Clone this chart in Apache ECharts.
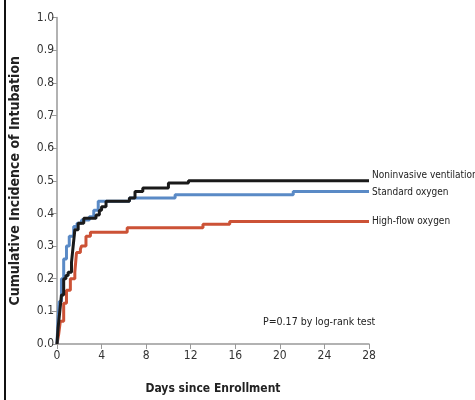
<!DOCTYPE html>
<html>
<head>
<meta charset="utf-8">
<script src="https://cdn.jsdelivr.net/npm/echarts@6/dist/echarts.min.js"></script>
<style>
  html, body { margin: 0; padding: 0; background: #fff; }
  #chart { width: 475px; height: 400px; }
</style>
</head>
<body>
<div id="chart"></div>
<script>
// 数据
const xTicks = [0, 4, 8, 12, 16, 20, 24, 28];
const yTicks = [0, 0.1, 0.2, 0.3, 0.4, 0.5, 0.6, 0.7, 0.8, 0.9, 1.0];

const niDays = [0, 0.1, 0.25, 0.4, 0.6, 0.8, 1.0, 1.3, 1.45, 1.6, 1.9, 2.4, 3.5, 3.8, 4.0, 4.4, 6.5, 7.0, 7.7, 10.0, 11.8, 28];
const niVals = [0, 0.05, 0.1, 0.15, 0.2, 0.21, 0.22, 0.25, 0.3, 0.35, 0.37, 0.385, 0.395, 0.41, 0.42, 0.437, 0.447, 0.467, 0.478, 0.493, 0.5, 0.5];

const soDays = [0, 0.1, 0.2, 0.4, 0.6, 0.85, 1.1, 1.5, 1.8, 2.2, 2.9, 3.3, 3.7, 6.5, 10.6, 21.2, 28];
const soVals = [0, 0.08, 0.13, 0.2, 0.26, 0.3, 0.33, 0.36, 0.37, 0.38, 0.39, 0.41, 0.437, 0.447, 0.457, 0.467, 0.467];

const hfDays = [0, 0.15, 0.3, 0.6, 0.85, 1.2, 1.6, 1.75, 2.1, 2.2, 2.6, 3.0, 6.3, 13.1, 15.5, 28];
const hfVals = [0, 0.03, 0.07, 0.125, 0.165, 0.2, 0.22, 0.28, 0.29, 0.3, 0.33, 0.342, 0.356, 0.367, 0.375, 0.375];

const seriesNames = ["Noninvasive ventilation", "Standard oxygen", "High-flow oxygen"];

const font = "'DejaVu Sans Condensed', 'Liberation Sans Narrow', sans-serif";
const zip = (a, b) => a.map((d, i) => [d, b[i]]);

function kmLine(name, days, vals, color, z, offset) {
  return {
    name: name,
    type: "line",
    step: "end",
    data: zip(days, vals),
    showSymbol: false,
    z: z,
    lineStyle: { color: color, width: 3 },
    endLabel: {
      show: true,
      formatter: "{a}",
      distance: 3,
      offset: offset,
      color: "#222",
      fontSize: 10,
      fontFamily: font,
    },
  };
}

let myChart = echarts.init(document.getElementById("chart"));
let option = {
  animation: false,
  grid: { left: 53, right: 106, top: 17.5, bottom: 56 },
  xAxis: {
    type: "value",
    min: xTicks[0],
    max: xTicks[xTicks.length - 1],
    interval: 4,
    name: "Days since Enrollment",
    nameLocation: "middle",
    nameGap: 39,
    nameTextStyle: { fontFamily: font, fontWeight: "bold", fontSize: 12, color: "#222" },
    axisLine: { lineStyle: { color: "#999", width: 1.5 } },
    axisTick: { length: 5, lineStyle: { color: "#999" } },
    axisLabel: { fontFamily: font, fontSize: 12, color: "#333", margin: 6 },
    splitLine: { show: false },
  },
  yAxis: {
    type: "value",
    min: yTicks[0],
    max: yTicks[yTicks.length - 1],
    interval: 0.1,
    name: "Cumulative Incidence of Intubation",
    nameLocation: "middle",
    nameGap: 35,
    nameTextStyle: { fontFamily: font, fontWeight: "bold", fontSize: 14, color: "#222" },
    axisLine: { show: true, lineStyle: { color: "#999", width: 1.5 } },
    axisTick: { show: true, length: 5, lineStyle: { color: "#999" } },
    axisLabel: {
      fontFamily: font, fontSize: 12, color: "#333", margin: 3,
      formatter: (v) => v.toFixed(1),
    },
    splitLine: { show: false },
  },
  graphic: [
    { type: "rect", left: 4, top: 0, shape: { width: 2, height: 400 }, style: { fill: "#111" } },
    {
      type: "text", left: 263, top: 317,
      style: { text: "P=0.17 by log-rank test", font: "10.5px " + font, fill: "#222" },
    },
  ],
  series: [
    kmLine(seriesNames[2], hfDays, hfVals, "#cc5236", 2, [0, 0]),
    kmLine(seriesNames[1], soDays, soVals, "#5a8ac6", 3, [0, 1]),
    kmLine(seriesNames[0], niDays, niVals, "#1a1a1a", 4, [0, -5]),
  ],
};
myChart.setOption(option);
</script>
</body>
</html>
